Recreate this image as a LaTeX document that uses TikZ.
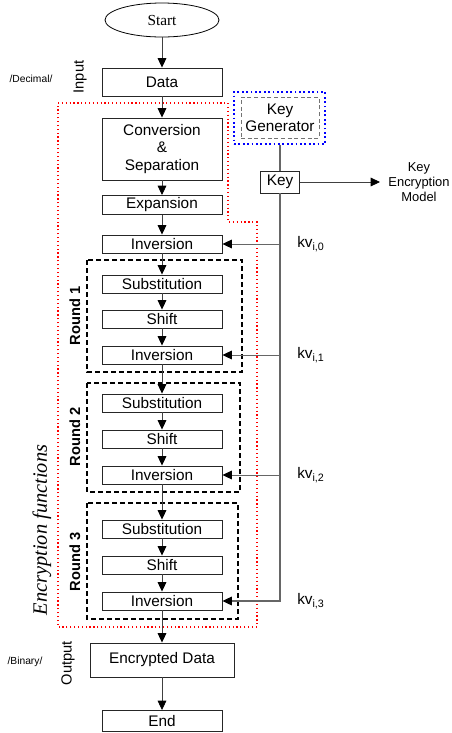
\documentclass[tikz,border=0pt]{standalone}
\usepackage{fontspec}
\setmainfont{Liberation Sans}
\newfontfamily\timesfont{Liberation Serif}
\usetikzlibrary{arrows.meta,shapes.geometric}

\begin{document}
\begin{tikzpicture}[x=0.75pt,y=-0.75pt,
  every node/.style={inner sep=0pt},
  stage/.style={draw=black!85,line width=0.7pt,minimum width=90pt,minimum height=13.5pt,
    font=\fontsize{11.5}{13}\selectfont,align=center},
  flow/.style={draw=black!75,line width=0.6pt,-{Triangle[length=7pt,width=6.5pt,color=black]}},
  keyline/.style={draw=black!60,line width=0.8pt},
  roundbox/.style={draw,line width=1.1pt,dash pattern=on 3.6pt off 2.4pt},
  sidelabel/.style={rotate=90,font=\fontsize{11}{13}\selectfont},
  roundlabel/.style={rotate=90,font=\fontsize{11}{13}\selectfont\bfseries},
  small/.style={font=\fontsize{7.7}{9}\selectfont}]
\useasboundingbox (0,0) rectangle (451,733);

% main chain
\node [draw,ellipse,line width=0.6pt,minimum width=85.5pt,minimum height=25.5pt,
  font=\timesfont\fontsize{11.5}{13}\selectfont] (start) at (162,20) {Start};
\node [stage,minimum height=21pt] (data) at (162,82) {Data};
\node [stage,minimum height=46.5pt] (conv) at (162,149) {Conversion\\\&\\Separation};
\node [stage,minimum height=14.25pt] (exp) at (162,205) {Expansion};
\node [stage] (inv0) at (162,244) {Inversion};
\node [stage] (sub1) at (162,284) {Substitution};
\node [stage] (shf1) at (162,319) {Shift};
\node [stage] (inv1) at (162,355) {Inversion};
\node [stage] (sub2) at (162,403) {Substitution};
\node [stage] (shf2) at (162,439) {Shift};
\node [stage] (inv2) at (162,475) {Inversion};
\node [stage] (sub3) at (162,529) {Substitution};
\node [stage] (shf3) at (162,565) {Shift};
\node [stage] (inv3) at (162,601) {Inversion};
\node [stage,minimum width=108pt,minimum height=25.5pt] (enc) at (162,660) {Encrypted Data};
\node [stage,minimum height=15.75pt] (end) at (162,721) {End};

% key side
\node [draw=blue,dotted,line width=1.3pt,minimum width=68.25pt,minimum height=39pt] (kgframe) at (279.5,118) {};
\node [draw=black!55,densely dashed,line width=0.5pt,minimum width=58.5pt,minimum height=30.75pt,
  font=\fontsize{11.5}{13}\selectfont,align=center] (kg) at (280,117.5) {Key\\Generator};
\node [stage,minimum width=29.25pt,minimum height=16.5pt] (key) at (280,182) {Key};
\coordinate (kem) at (380,182);
\node [align=center,font=\fontsize{9.7}{11.5}\selectfont] (kemtext) at (419,182) {Key\\Encryption\\Model};

% frames
\draw [red,dotted,line width=0.9pt] (58,103) -- (228,103) -- (228,222) -- (257,222)
  -- (257,627) -- (58,627) -- cycle;
\draw [roundbox] (87,260) rectangle (242,372);
\draw [roundbox] (87,383) rectangle (240,492);
\draw [roundbox] (87,503) rectangle (238,619);

% labels
\node [sidelabel] (inlabel) at (80,77) {Input};
\node [small] (declabel) at (31,79) {/Decimal/};
\node [sidelabel] (outlabel) at (68,663) {Output};
\node [small] (binlabel) at (25,662) {/Binary/};
\node [roundlabel] (r1) at (75,316) {Round 1};
\node [roundlabel] (r2) at (75,437) {Round 2};
\node [roundlabel] (r3) at (75,562) {Round 3};
\node [rotate=90,font=\timesfont\itshape\fontsize{15.3}{17}\selectfont] (eflabel) at (42,530) {Encryption functions};

% flow arrows
\foreach \a/\b in {start/data,data/conv,conv/exp,exp/inv0,inv0/sub1,sub1/shf1,shf1/inv1,
  inv1/sub2,sub2/shf2,shf2/inv2,inv2/sub3,sub3/shf3,shf3/inv3,inv3/enc,enc/end}
  \draw [flow] (\a) -- (\b);

% key distribution
\draw [keyline] (kgframe.south -| kg) -- (key);
\draw [flow] (key) -- (kem);
\draw [flow,draw=black!60,line width=0.8pt] (key.south) |- (inv3.east);
\foreach \i in {0,1,2}
  \draw [flow,draw=black!60] (key.south |- inv\i) -- (inv\i.east);
\foreach \i/\y in {0/244,1/355,2/475,3/601}
  \node [anchor=west,font=\fontsize{11.5}{13}\selectfont] (kv\i) at (297,\y) {kv\textsubscript{i,\i}};
\end{tikzpicture}
\end{document}
